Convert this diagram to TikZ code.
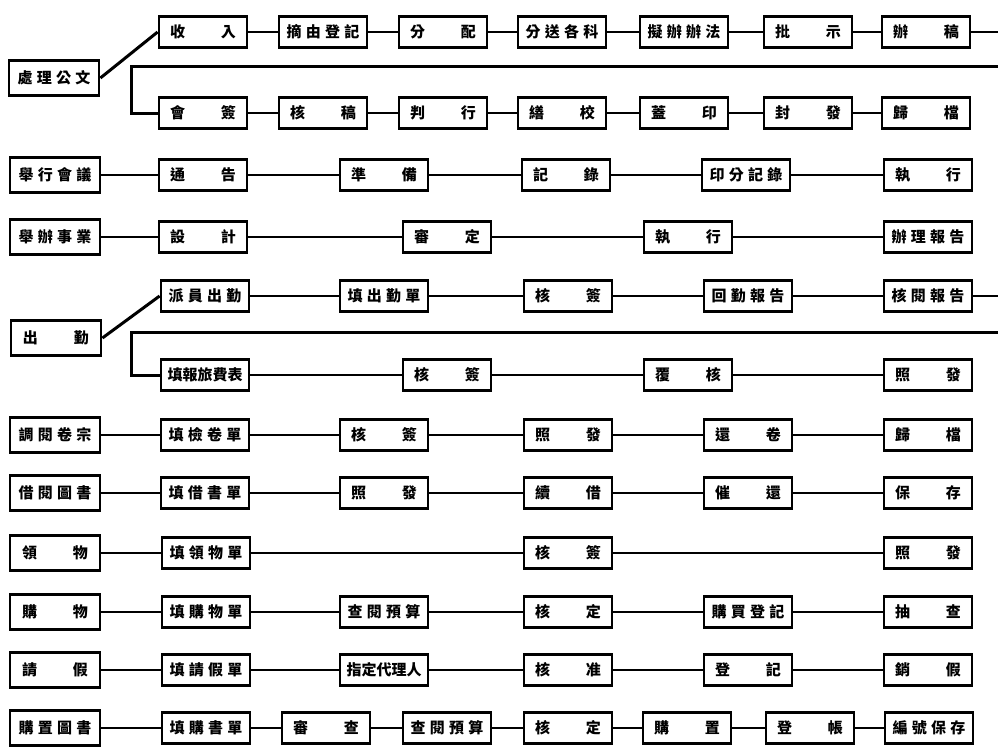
\documentclass[tikz,border=0pt]{standalone}
\usepackage{fontspec}
\newfontfamily\cjk{Noto Sans CJK TC}
\newcommand\twochar[2]{#1\hspace{2.4em}#2}
\newcommand\fourchar[4]{#1\hspace{.28em}#2\hspace{.28em}#3\hspace{.28em}#4}
\begin{document}
\begin{tikzpicture}[x=1pt,y=-1pt,
  box/.style={draw, line width=2.8pt, fill=white, minimum width=88pt, minimum height=31pt, inner sep=0pt, font=\cjk\bfseries\fontsize{15}{17}\selectfont},
  head/.style={box, minimum width=90pt, minimum height=35pt},
  link/.style={line width=2pt},
  route/.style={line width=3pt}]
\fill[white] (0,0) rectangle (998,747);
\useasboundingbox (0,0) rectangle (998,747);
% ---- row 1
\node[head] (p0) at (54,78) {\fourchar{處}{理}{公}{文}};
\node[box] (r1a) at (203,32) {\twochar{收}{入}};
\node[box] (r1b) at (323,32) {\fourchar{摘}{由}{登}{記}};
\node[box] (r1c) at (443,32) {\twochar{分}{配}};
\node[box] (r1d) at (562,32) {\fourchar{分}{送}{各}{科}};
\node[box] (r1e) at (684,32) {\fourchar{擬}{辦}{辦}{法}};
\node[box] (r1f) at (808,32) {\twochar{批}{示}};
\node[box] (r1g) at (926,32) {\twochar{辦}{稿}};
\node[box] (r2a) at (203,113) {\twochar{會}{簽}};
\node[box] (r2b) at (323,113) {\twochar{核}{稿}};
\node[box] (r2c) at (443,113) {\twochar{判}{行}};
\node[box] (r2d) at (562,113) {\twochar{繕}{校}};
\node[box] (r2e) at (684,113) {\twochar{蓋}{印}};
\node[box] (r2f) at (808,113) {\twochar{封}{發}};
\node[box] (r2g) at (926,113) {\twochar{歸}{檔}};
\coordinate (e1) at (998,32);
\coordinate (e2) at (998,66);
\coordinate (k1) at (131,66);
\coordinate (k2) at (131,113);
% ---- meetings
\node[head] (m0) at (55,175) {\fourchar{舉}{行}{會}{議}};
\node[box] (m1) at (203,175) {\twochar{通}{告}};
\node[box] (m2) at (384,175) {\twochar{準}{備}};
\node[box] (m3) at (566,175) {\twochar{記}{錄}};
\node[box] (m4) at (746,175) {\fourchar{印}{分}{記}{錄}};
\node[box] (m5) at (928,175) {\twochar{執}{行}};
% ---- projects
\node[head] (s0) at (55,237) {\fourchar{舉}{辦}{事}{業}};
\node[box] (s1) at (203,237) {\twochar{設}{計}};
\node[box] (s2) at (447,237) {\twochar{審}{定}};
\node[box] (s3) at (688,237) {\twochar{執}{行}};
\node[box] (s4) at (928,237) {\fourchar{辦}{理}{報}{告}};
% ---- duty trip
\node[head] (c0) at (56,338) {\twochar{出}{勤}};
\node[box] (c1) at (205,296) {\fourchar{派}{員}{出}{勤}};
\node[box] (c2) at (384,296) {\fourchar{填}{出}{勤}{單}};
\node[box] (c3) at (568,296) {\twochar{核}{簽}};
\node[box] (c4) at (748,296) {\fourchar{回}{勤}{報}{告}};
\node[box] (c5) at (928,296) {\fourchar{核}{閱}{報}{告}};
\node[box] (c6) at (205,375) {填報旅費表};
\node[box] (c7) at (447,375) {\twochar{核}{簽}};
\node[box] (c8) at (688,375) {\twochar{覆}{核}};
\node[box] (c9) at (928,375) {\twochar{照}{發}};
\coordinate (e3) at (998,296);
\coordinate (e4) at (998,332);
\coordinate (k3) at (131,332);
\coordinate (k4) at (131,375);
% ---- files
\node[head] (d0) at (55,435) {\fourchar{調}{閱}{卷}{宗}};
\node[box] (d1) at (205,435) {\fourchar{填}{檢}{卷}{單}};
\node[box] (d2) at (384,435) {\twochar{核}{簽}};
\node[box] (d3) at (568,435) {\twochar{照}{發}};
\node[box] (d4) at (748,435) {\twochar{還}{卷}};
\node[box] (d5) at (928,435) {\twochar{歸}{檔}};
% ---- books
\node[head] (b0) at (55,493) {\fourchar{借}{閱}{圖}{書}};
\node[box] (b1) at (205,493) {\fourchar{填}{借}{書}{單}};
\node[box] (b2) at (384,493) {\twochar{照}{發}};
\node[box] (b3) at (568,493) {\twochar{續}{借}};
\node[box] (b4) at (748,493) {\twochar{催}{還}};
\node[box] (b5) at (928,493) {\twochar{保}{存}};
% ---- supplies
\node[head] (l0) at (55,553) {\twochar{領}{物}};
\node[box] (l1) at (206,553) {\fourchar{填}{領}{物}{單}};
\node[box] (l2) at (568,553) {\twochar{核}{簽}};
\node[box] (l3) at (928,553) {\twochar{照}{發}};
% ---- purchase
\node[head] (g0) at (55,612) {\twochar{購}{物}};
\node[box] (g1) at (206,612) {\fourchar{填}{購}{物}{單}};
\node[box] (g2) at (384,612) {\fourchar{查}{閱}{預}{算}};
\node[box] (g3) at (568,612) {\twochar{核}{定}};
\node[box] (g4) at (748,612) {\fourchar{購}{買}{登}{記}};
\node[box] (g5) at (928,612) {\twochar{抽}{查}};
% ---- leave
\node[head] (q0) at (55,670) {\twochar{請}{假}};
\node[box] (q1) at (206,670) {\fourchar{填}{請}{假}{單}};
\node[box] (q2) at (384,670) {指定代理人};
\node[box] (q3) at (568,670) {\twochar{核}{准}};
\node[box] (q4) at (748,670) {\twochar{登}{記}};
\node[box] (q5) at (928,670) {\twochar{銷}{假}};
% ---- buying books
\node[head] (z0) at (55,728) {\fourchar{購}{置}{圖}{書}};
\node[box] (z1) at (206,728) {\fourchar{填}{購}{書}{單}};
\node[box] (z2) at (326,728) {\twochar{審}{查}};
\node[box] (z3) at (447,728) {\fourchar{查}{閱}{預}{算}};
\node[box] (z4) at (568,728) {\twochar{核}{定}};
\node[box] (z5) at (687,728) {\twochar{購}{置}};
\node[box] (z6) at (810,728) {\twochar{登}{帳}};
\node[box] (z7) at (929,728) {\fourchar{編}{號}{保}{存}};
% ---- connectors
\draw[route] (p0.east) -- (r1a.west);
\draw[route] (c0.east) -- (c1.west);
\draw[route] (e2) -- (k1) -- (k2) -- (r2a.west);
\draw[route] (e4) -- (k3) -- (k4) -- (c6.west);
\draw[link] (r1g.east) -- (e1);
\draw[link] (c5.east) -- (e3);
\foreach \a/\b in {r1a/r1b,r1b/r1c,r1c/r1d,r1d/r1e,r1e/r1f,r1f/r1g,
  r2a/r2b,r2b/r2c,r2c/r2d,r2d/r2e,r2e/r2f,r2f/r2g,
  m0/m1,m1/m2,m2/m3,m3/m4,m4/m5,
  s0/s1,s1/s2,s2/s3,s3/s4,
  c1/c2,c2/c3,c3/c4,c4/c5,c6/c7,c7/c8,c8/c9,
  d0/d1,d1/d2,d2/d3,d3/d4,d4/d5,
  b0/b1,b1/b2,b2/b3,b3/b4,b4/b5,
  l0/l1,l1/l2,l2/l3,
  g0/g1,g1/g2,g2/g3,g3/g4,g4/g5,
  q0/q1,q1/q2,q2/q3,q3/q4,q4/q5,
  z0/z1,z1/z2,z2/z3,z3/z4,z4/z5,z5/z6,z6/z7}
  \draw[link] (\a.east) -- (\b.west);
\end{tikzpicture}
\end{document}
